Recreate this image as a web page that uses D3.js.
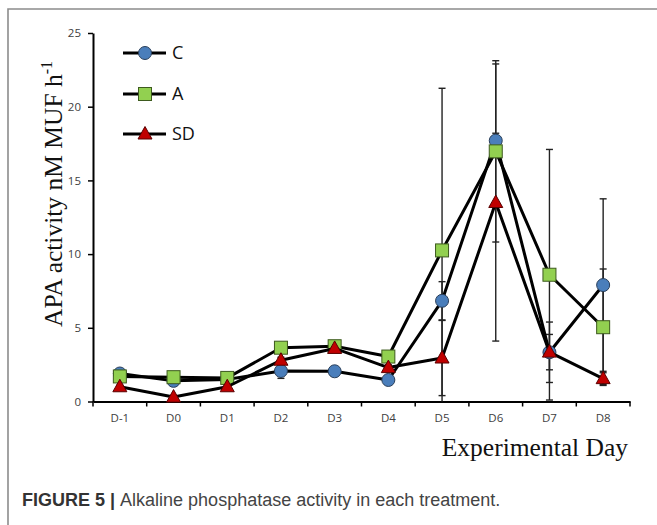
<!DOCTYPE html>
<html>
<head>
<meta charset="utf-8">
<script src="https://cdn.jsdelivr.net/npm/d3@7/dist/d3.min.js"></script>
<style>
  html, body { margin: 0; padding: 0; background: #fff; }
  svg { display: block; }
</style>
</head>
<body>
<svg id="chart" width="657" height="525"></svg>
<script>
const categories = ["D-1","D0","D1","D2","D3","D4","D5","D6","D7","D8"];
const valuesC  = [1.9, 1.4, 1.5, 2.07, 2.05, 1.46, 6.83, 17.7, 3.34, 7.9];
const valuesA  = [1.7, 1.65, 1.6, 3.65, 3.75, 3.05, 10.25, 16.97, 8.6, 5.04];
const valuesSD = [1.0, 0.3, 1.0, 2.8, 3.6, 2.3, 2.95, 13.5, 3.35, 1.55];
const errC  = [0.2, 0.15, 0.1, 0.5, 0.2, 0.2, 1.3, 0.5, 2.05, 5.85];
const errA  = [0.15, 0.1, 0.1, 0.2, 0.2, 0.2, 11.0, 6.15, 8.5, 3.95];
const errSD = [0.1, 0.1, 0.1, 0.2, 0.2, 0.2, 2.55, 9.4, 1.2, 0.4];
const yTicks = [0, 5, 10, 15, 20, 25];
const seriesNames = ["C", "A", "SD"];

const series = [
  {name: seriesNames[0], values: valuesC,  err: errC,  shape: "circle",   fill: "#4a7ebb"},
  {name: seriesNames[1], values: valuesA,  err: errA,  shape: "square",   fill: "#92d050"},
  {name: seriesNames[2], values: valuesSD, err: errSD, shape: "triangle", fill: "#c00000"}
];

const svg = d3.select("#chart");

// frame
svg.append("path").attr("d", "M8,525 L8,9 L657,9")
  .attr("fill", "none").attr("stroke", "#8c8c8c").attr("stroke-width", 1.6);

const x = d3.scaleBand().domain(categories).range([93, 630]).padding(0);
const y = d3.scaleLinear().domain([0, 25]).range([401.5, 33]);
const cx = d => x(d) + x.bandwidth() / 2;

// y axis
const yAxis = svg.append("g").attr("transform", "translate(93,0)")
  .call(d3.axisLeft(y).tickValues(yTicks).tickSize(5).tickPadding(7).tickSizeOuter(0));
yAxis.select(".domain").attr("stroke", "#000").attr("stroke-width", 2);
yAxis.selectAll(".tick line").attr("stroke", "#000").attr("stroke-width", 1.5);
yAxis.selectAll(".tick text").attr("font-family", "Open Sans").attr("font-size", "11.5px").attr("fill", "#404040");

// x axis
const xAxis = svg.append("g").attr("transform", "translate(0,401.5)")
  .call(d3.axisBottom(x).tickSize(0).tickPadding(12).tickSizeOuter(0));
xAxis.select(".domain").attr("stroke", "#000").attr("stroke-width", 2);
xAxis.selectAll(".tick text").attr("font-family", "Open Sans").attr("font-size", "11.5px").attr("fill", "#404040");
const boundaries = categories.map(c => x(c)).concat([x.range()[1]]);
xAxis.selectAll(".bnd").data(boundaries).enter().append("line")
  .attr("x1", d => d).attr("x2", d => d).attr("y1", 0).attr("y2", 5)
  .attr("stroke", "#000").attr("stroke-width", 1.5);

// error bars
const gErr = svg.append("g");
series.forEach(s => {
  s.values.forEach((v, i) => {
    const lo = Math.max(0, v - s.err[i]);
    const hi = v + s.err[i];
    const px = cx(categories[i]);
    gErr.append("line").attr("x1", px).attr("x2", px).attr("y1", y(lo)).attr("y2", y(hi))
      .attr("stroke", "#222").attr("stroke-width", 1.4);
    gErr.append("line").attr("x1", px - 3.5).attr("x2", px + 3.5).attr("y1", y(hi)).attr("y2", y(hi))
      .attr("stroke", "#222").attr("stroke-width", 1.4);
    if (v - s.err[i] >= 0) {
      gErr.append("line").attr("x1", px - 3.5).attr("x2", px + 3.5).attr("y1", y(lo)).attr("y2", y(lo))
        .attr("stroke", "#222").attr("stroke-width", 1.4);
    }
  });
});

function drawMarker(g, shape, fill, px, py) {
  if (shape === "circle") {
    g.append("circle").attr("cx", px).attr("cy", py).attr("r", 6.5)
      .attr("fill", fill).attr("stroke", "#2a3f5a").attr("stroke-width", 1);
  } else if (shape === "square") {
    g.append("rect").attr("x", px - 6.5).attr("y", py - 6.5).attr("width", 13).attr("height", 13)
      .attr("fill", fill).attr("stroke", "#3d5a1e").attr("stroke-width", 1);
  } else {
    const h = 12.5, w = 14;
    g.append("path").attr("d", `M${px},${py - h * 0.6} L${px + w / 2},${py + h * 0.4} L${px - w / 2},${py + h * 0.4} Z`)
      .attr("fill", fill).attr("stroke", "#5a0000").attr("stroke-width", 1);
  }
}

const line = d3.line().x((d, i) => cx(categories[i])).y(d => y(d));
series.forEach(s => {
  const g = svg.append("g");
  g.append("path").attr("d", line(s.values)).attr("fill", "none")
    .attr("stroke", "#000").attr("stroke-width", 3).attr("stroke-linejoin", "round");
  s.values.forEach((v, i) => drawMarker(g, s.shape, s.fill, cx(categories[i]), y(v)));
});

// legend
const legendY = [53, 94, 134];
series.forEach((s, k) => {
  const g = svg.append("g");
  g.append("line").attr("x1", 123).attr("x2", 166).attr("y1", legendY[k]).attr("y2", legendY[k])
    .attr("stroke", "#000").attr("stroke-width", 3);
  drawMarker(g, s.shape, s.fill, 145, legendY[k]);
  g.append("text").attr("x", 172).attr("y", legendY[k]).attr("dy", "0.35em")
    .attr("font-family", "Open Sans").attr("font-size", "18px").attr("fill", "#111").text(s.name);
});

// axis titles
const yt = svg.append("text").attr("transform", "translate(62,194) rotate(-90)")
  .attr("text-anchor", "middle").attr("font-family", "Liberation Serif").attr("font-size", "25.5px").attr("fill", "#111");
yt.append("tspan").text("APA activity nM MUF h");
yt.append("tspan").attr("font-size", "16px").attr("dy", "-10").text("-1");

svg.append("text").attr("x", 628).attr("y", 456).attr("text-anchor", "end")
  .attr("font-family", "Liberation Serif").attr("font-size", "25.5px").attr("fill", "#111").text("Experimental Day");

// caption
const cap = svg.append("text").attr("x", 22).attr("y", 506)
  .attr("font-family", "Liberation Sans").attr("font-size", "18px").attr("fill", "#333");
cap.append("tspan").attr("font-weight", "bold").text("FIGURE 5 | ");
cap.append("tspan").attr("fill", "#444").text("Alkaline phosphatase activity in each treatment.");
</script>
</body>
</html>
